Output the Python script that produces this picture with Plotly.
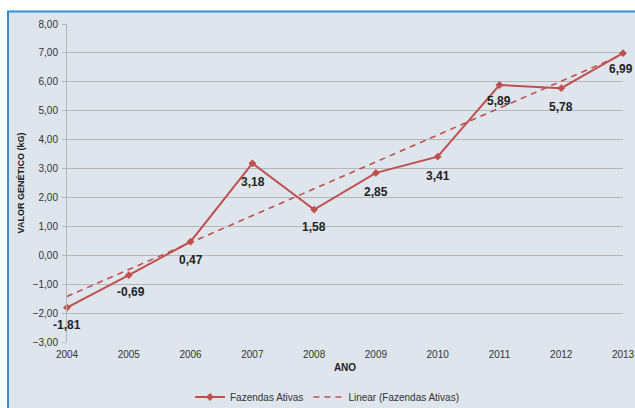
import numpy as np
import plotly.graph_objects as go

anos = [2004, 2005, 2006, 2007, 2008, 2009, 2010, 2011, 2012, 2013]
valores = [-1.81, -0.69, 0.47, 3.18, 1.58, 2.85, 3.41, 5.89, 5.78, 6.99]
y_ticks = [-3, -2, -1, 0, 1, 2, 3, 4, 5, 6, 7, 8]

# Linear trendline (least squares, like Excel's "Linear" trendline)
coef = np.polyfit(anos, valores, 1)
trend = np.polyval(coef, anos)

RED = "#c0504d"
OFF = 0  # body margin removed via post_script
PAGE_W, PAGE_H = 635, 408
W, H = PAGE_W - OFF, PAGE_H - OFF
L, T = 67 - OFF, 24 - OFF
pw, ph = 556, 318
R, B = W - L - pw, H - T - ph

fig = go.Figure()
fig.add_trace(go.Scatter(
    x=anos, y=valores, mode="lines+markers", name="Fazendas Ativas",
    line=dict(color=RED, width=2),
    marker=dict(symbol="diamond", size=6, color=RED),
    cliponaxis=False,
))
fig.add_trace(go.Scatter(
    x=anos, y=trend, mode="lines", name="Linear (Fazendas Ativas)",
    line=dict(color=RED, width=1.6, dash="6px,5px"),
    cliponaxis=False,
))

yshifts = [-17, -17, -18, -19, -17, -19, -19, -16, -19, -16]
xshifts = [0, 2, 0, 1, 0, 0, 0, 0, 0, -2]
for xa, ya, dy, dx in zip(anos, valores, yshifts, xshifts):
    fig.add_annotation(
        x=xa, y=ya, text=f"{ya:.2f}".replace(".", ","), showarrow=False,
        yshift=dy, xshift=dx,
        font=dict(family="Liberation Sans, Arial", size=12, color="#222222", weight="bold"),
    )

# background panel with blue border (left/top visible)
px = lambda v: (v - OFF - L) / pw
py = lambda v: (T + ph - (v - OFF)) / ph
fig.add_shape(
    type="rect", xref="paper", yref="paper", layer="below",
    x0=px(8), x1=px(PAGE_W + 20),
    y0=py(PAGE_H + 20), y1=py(11.5),
    fillcolor="#dee5ec", line=dict(color="#2f8fd0", width=2),
)

fig.update_layout(
    width=W, height=H,
    margin=dict(l=L, r=R, t=T, b=B, autoexpand=False),
    paper_bgcolor="white", plot_bgcolor="rgba(0,0,0,0)",
    separators=",.",
    font=dict(family="Liberation Sans, Arial", size=10, color="#333333"),
    showlegend=True,
    legend=dict(orientation="h", x=px(327), xanchor="center",
                y=py(397), yanchor="middle",
                font=dict(size=10, color="#333333"), bgcolor="rgba(0,0,0,0)",
                itemwidth=30, tracegroupgap=0),
    xaxis=dict(
        range=[2004, 2013], tickmode="array", tickvals=anos,
        ticktext=[str(a) for a in anos], showgrid=False, zeroline=False,
        showline=False, ticks="", ticklabelstandoff=5,
        tickfont=dict(size=10, color="#333333"),
        title=dict(text="<b>ANO</b>", font=dict(size=10, color="#222222"), standoff=4),
    ),
    yaxis=dict(
        range=[-3, 8], tickmode="array", tickvals=y_ticks, tickformat=".2f",
        showgrid=True, gridcolor="#b4b6b9", gridwidth=1, zeroline=False,
        showline=True, linecolor="#b4b6b9", linewidth=1,
        ticks="outside", ticklen=4, tickcolor="#b4b6b9", ticklabelstandoff=2,
        tickfont=dict(size=10, color="#333333"),
        title=dict(text="<b>VALOR GENÉTICO (kG)</b>", font=dict(size=9, color="#222222"), standoff=6),
    ),
)

fig.write_html(
    "out.html",
    config={"displayModeBar": False},
    post_script="document.body.style.margin='0';document.body.style.overflow='hidden';",
)
